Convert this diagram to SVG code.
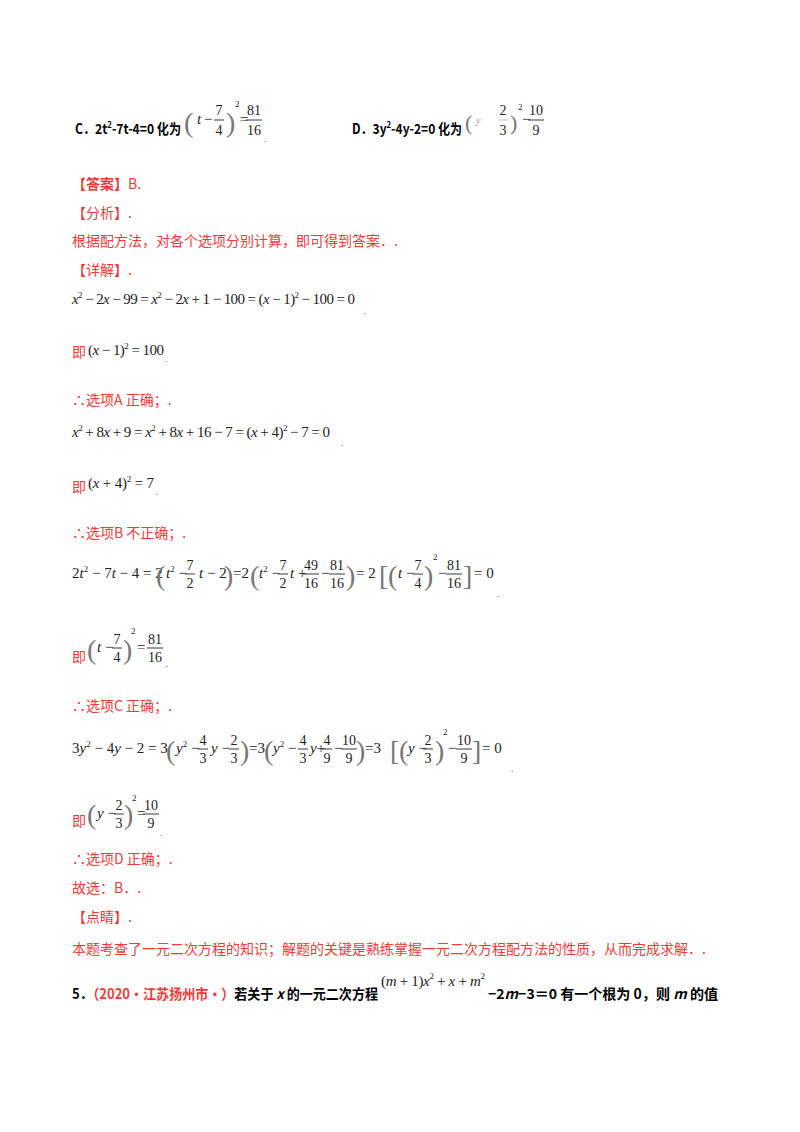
<svg xmlns="http://www.w3.org/2000/svg" width="800" height="1132" viewBox="0 0 800 1132">
<style>
.cn{font-family:"Noto Sans CJK SC","Noto Sans",sans-serif;font-size:14px;fill:#000}
.r{fill:#f03a3a}
.b{font-weight:bold}
.m{font-family:"Liberation Serif",serif;font-size:15px;fill:#222}
.i{font-style:italic}
.s{font-size:9px}
.p{font-family:"Liberation Serif",serif;font-size:28px;fill:#777;font-weight:normal}
.f{font-family:"Liberation Serif",serif;font-size:14px;fill:#222;text-anchor:middle}
.bar{stroke:#222;stroke-width:0.9}
</style>
<rect width="800" height="1132" fill="#fff"/>

<g id="optC">
<text class="cn b" x="75" y="134" textLength="106" lengthAdjust="spacingAndGlyphs">C．2t<tspan class="s" dy="-6">2</tspan><tspan dy="6">-7t-4=0 化为</tspan></text>
<text class="p" x="184" y="132">(</text>
<text class="m i" x="197" y="124">t</text><text class="m" x="204" y="124">−</text>
<text class="f" x="219" y="115">7</text><line class="bar" x1="214" y1="120" x2="224" y2="120"/><text class="f" x="219" y="135">4</text>
<text class="p" x="226" y="132">)</text><text class="m s" x="235" y="107">2</text>
<text class="m" x="240" y="124">=</text>
<text class="f" x="254" y="115">81</text><line class="bar" x1="246" y1="120" x2="262" y2="120"/><text class="f" x="254" y="135">16</text>
<text class="m s" x="264" y="142">.</text>
</g>
<g id="optD">
<text class="cn b" x="352" y="134" textLength="110" lengthAdjust="spacingAndGlyphs">D．3y<tspan class="s" dy="-6">2</tspan><tspan dy="6">-4y-2=0 化为</tspan></text>
<text class="p" x="465" y="130" style="font-size:22px">(</text>
<text class="m i" x="476" y="124" style="font-size:10px;fill:#999">y</text>
<text class="f" x="503" y="115">2</text><line class="bar" x1="498" y1="120" x2="508" y2="120" stroke-opacity="0.3"/><text class="f" x="503" y="135">3</text>
<text class="p" x="510" y="130" style="font-size:22px">)</text><text class="m s" x="518" y="110">2</text>
<text class="m" x="522" y="124">−</text>
<text class="f" x="536" y="115">10</text><line class="bar" x1="528" y1="120" x2="544" y2="120"/><text class="f" x="536" y="135">9</text>
</g>

<g id="answer">
<text class="cn r b" x="72" y="189">【答案】<tspan style="font-weight:normal">B.</tspan></text>
<text class="cn r" x="72" y="218">【分析】.</text>
<text class="cn r" x="72" y="246">根据配方法，对各个选项分别计算，即可得到答案．.</text>
<text class="cn r" x="72" y="275">【详解】.</text>
</g>

<g id="stepA">
<text class="m" x="72" y="304" textLength="283"><tspan class="i">x</tspan><tspan class="s" dy="-6">2</tspan><tspan dy="6"> − 2</tspan><tspan class="i">x</tspan> − 99 = <tspan class="i">x</tspan><tspan class="s" dy="-6">2</tspan><tspan dy="6"> − 2</tspan><tspan class="i">x</tspan> + 1 − 100 = (<tspan class="i">x</tspan> − 1)<tspan class="s" dy="-6">2</tspan><tspan dy="6"> − 100 = 0</tspan></text>
<text class="m s" x="364" y="314">.</text>
<text class="cn r" x="72" y="357">即</text>
<text class="m" x="88" y="355" textLength="76">(<tspan class="i">x</tspan> − 1)<tspan class="s" dy="-6">2</tspan><tspan dy="6"> = 100</tspan></text>
<text class="m s" x="165" y="362">.</text>
<text class="cn r" x="72" y="405">∴选项A 正确；.</text>
</g>

<g id="stepB">
<text class="m" x="72" y="437" textLength="258"><tspan class="i">x</tspan><tspan class="s" dy="-6">2</tspan><tspan dy="6"> + 8</tspan><tspan class="i">x</tspan> + 9 = <tspan class="i">x</tspan><tspan class="s" dy="-6">2</tspan><tspan dy="6"> + 8</tspan><tspan class="i">x</tspan> + 16 − 7 = (<tspan class="i">x</tspan> + 4)<tspan class="s" dy="-6">2</tspan><tspan dy="6"> − 7 = 0</tspan></text>
<text class="m s" x="341" y="446">.</text>
<text class="cn r" x="72" y="492">即</text>
<text class="m" x="88" y="488" textLength="66">(<tspan class="i">x</tspan> + 4)<tspan class="s" dy="-6">2</tspan><tspan dy="6"> = 7</tspan></text>
<text class="m s" x="156" y="495">.</text>
<text class="cn r" x="72" y="538">∴选项B 不正确；.</text>
</g>

<g id="stepC">
<text class="m" x="72" y="578">2<tspan class="i">t</tspan><tspan class="s" dy="-6">2</tspan><tspan dy="6"> − 7</tspan><tspan class="i">t</tspan> − 4 = 2</text>
<text class="p" x="156" y="585">(</text>
<text class="m" x="166" y="578"><tspan class="i">t</tspan><tspan class="s" dy="-6">2</tspan><tspan dy="6"> −</tspan></text>
<text class="f" x="190" y="570">7</text><line class="bar" x1="185" y1="574" x2="195" y2="574"/><text class="f" x="190" y="588">2</text>
<text class="m" x="199" y="578"><tspan class="i">t</tspan> − 2</text>
<text class="p" x="224" y="585">)</text>
<text class="m" x="233" y="578">=2</text>
<text class="p" x="250" y="585">(</text>
<text class="m" x="259" y="578"><tspan class="i">t</tspan><tspan class="s" dy="-6">2</tspan><tspan dy="6"> −</tspan></text>
<text class="f" x="283" y="570">7</text><line class="bar" x1="278" y1="574" x2="288" y2="574"/><text class="f" x="283" y="588">2</text>
<text class="m" x="290" y="578"><tspan class="i">t</tspan> +</text>
<text class="f" x="311" y="570">49</text><line class="bar" x1="303" y1="574" x2="319" y2="574"/><text class="f" x="311" y="588">16</text>
<text class="m" x="321" y="578">−</text>
<text class="f" x="337" y="570">81</text><line class="bar" x1="329" y1="574" x2="345" y2="574"/><text class="f" x="337" y="588">16</text>
<text class="p" x="346" y="585">)</text>
<text class="m" x="356" y="578">= 2</text>
<text class="p" x="379" y="585">[</text>
<text class="p" x="388" y="585">(</text>
<text class="m" x="398" y="578"><tspan class="i">t</tspan> −</text>
<text class="f" x="418" y="570">7</text><line class="bar" x1="413" y1="574" x2="423" y2="574"/><text class="f" x="418" y="588">4</text>
<text class="p" x="424" y="585">)</text><text class="m s" x="433" y="560">2</text>
<text class="m" x="438" y="578">−</text>
<text class="f" x="454" y="570">81</text><line class="bar" x1="446" y1="574" x2="462" y2="574"/><text class="f" x="454" y="588">16</text>
<text class="p" x="463" y="585">]</text>
<text class="m" x="474" y="578">= 0</text>
<text class="m s" x="497" y="597">.</text>

<text class="cn r" x="72" y="662">即</text>
<text class="p" x="87" y="659">(</text>
<text class="m" x="97" y="652"><tspan class="i">t</tspan> −</text>
<text class="f" x="117" y="644">7</text><line class="bar" x1="112" y1="648" x2="122" y2="648"/><text class="f" x="117" y="662">4</text>
<text class="p" x="123" y="659">)</text><text class="m s" x="131" y="634">2</text>
<text class="m" x="137" y="652">=</text>
<text class="f" x="155" y="644">81</text><line class="bar" x1="147" y1="648" x2="163" y2="648"/><text class="f" x="155" y="662">16</text>
<text class="m s" x="166" y="667">.</text>
<text class="cn r" x="72" y="711">∴选项C 正确；.</text>
</g>

<g id="stepD">
<text class="m" x="72" y="753">3<tspan class="i">y</tspan><tspan class="s" dy="-6">2</tspan><tspan dy="6"> − 4</tspan><tspan class="i">y</tspan> − 2 = 3</text>
<text class="p" x="166" y="760">(</text>
<text class="m" x="176" y="753"><tspan class="i">y</tspan><tspan class="s" dy="-6">2</tspan><tspan dy="6"> −</tspan></text>
<text class="f" x="203" y="745">4</text><line class="bar" x1="198" y1="749" x2="208" y2="749"/><text class="f" x="203" y="763">3</text>
<text class="m" x="211" y="753"><tspan class="i">y</tspan> −</text>
<text class="f" x="234" y="745">2</text><line class="bar" x1="229" y1="749" x2="239" y2="749"/><text class="f" x="234" y="763">3</text>
<text class="p" x="240" y="760">)</text>
<text class="m" x="249" y="753">=3</text>
<text class="p" x="264" y="760">(</text>
<text class="m" x="273" y="753"><tspan class="i">y</tspan><tspan class="s" dy="-6">2</tspan><tspan dy="6"> −</tspan></text>
<text class="f" x="303" y="745">4</text><line class="bar" x1="298" y1="749" x2="308" y2="749"/><text class="f" x="303" y="763">3</text>
<text class="m" x="310" y="753"><tspan class="i">y</tspan>+</text>
<text class="f" x="327" y="745">4</text><line class="bar" x1="322" y1="749" x2="332" y2="749"/><text class="f" x="327" y="763">9</text>
<text class="m" x="334" y="753">−</text>
<text class="f" x="349" y="745">10</text><line class="bar" x1="341" y1="749" x2="357" y2="749"/><text class="f" x="349" y="763">9</text>
<text class="p" x="356" y="760">)</text>
<text class="m" x="365" y="753">=3</text>
<text class="p" x="390" y="760">[</text>
<text class="p" x="399" y="760">(</text>
<text class="m" x="408" y="753"><tspan class="i">y</tspan> −</text>
<text class="f" x="428" y="745">2</text><line class="bar" x1="423" y1="749" x2="433" y2="749"/><text class="f" x="428" y="763">3</text>
<text class="p" x="435" y="760">)</text><text class="m s" x="443" y="735">2</text>
<text class="m" x="448" y="753">−</text>
<text class="f" x="464" y="745">10</text><line class="bar" x1="456" y1="749" x2="472" y2="749"/><text class="f" x="464" y="763">9</text>
<text class="p" x="472" y="760">]</text>
<text class="m" x="482" y="753">= 0</text>
<text class="m s" x="511" y="772">.</text>

<text class="cn r" x="72" y="826">即</text>
<text class="p" x="87" y="824">(</text>
<text class="m" x="97" y="818"><tspan class="i">y</tspan> −</text>
<text class="f" x="119" y="810">2</text><line class="bar" x1="114" y1="814" x2="124" y2="814"/><text class="f" x="119" y="828">3</text>
<text class="p" x="124" y="824">)</text><text class="m s" x="132" y="801">2</text>
<text class="m" x="137" y="818">=</text>
<text class="f" x="151" y="810">10</text><line class="bar" x1="143" y1="814" x2="159" y2="814"/><text class="f" x="151" y="828">9</text>
<text class="m s" x="160" y="836">.</text>
<text class="cn r" x="72" y="864">∴选项D 正确；.</text>
</g>

<g id="conclusion">
<text class="cn r" x="72" y="893">故选：B．.</text>
<text class="cn r" x="72" y="922">【点睛】.</text>
<text class="cn r" x="72" y="954">本题考查了一元二次方程的知识；解题的关键是熟练掌握一元二次方程配方法的性质，从而完成求解．.</text>
</g>

<g id="q5">
<text class="cn b" x="72" y="999" textLength="306" lengthAdjust="spacingAndGlyphs">5．<tspan class="r">（2020·江苏扬州市·）</tspan>若关于 <tspan font-style="italic">x</tspan> 的一元二次方程</text>
<text class="m" x="381" y="986" style="font-size:15px" textLength="104">(<tspan class="i">m</tspan> + 1)<tspan class="i">x</tspan><tspan class="s" dy="-7">2</tspan><tspan dy="7"> + </tspan><tspan class="i">x</tspan> + <tspan class="i">m</tspan><tspan class="s" dy="-7">2</tspan></text>
<text class="cn b" x="488" y="999" textLength="230" lengthAdjust="spacingAndGlyphs">−2<tspan font-style="italic">m</tspan>−3＝0 有一个根为 0，则 <tspan font-style="italic">m</tspan> 的值</text>
</g>
</svg>
